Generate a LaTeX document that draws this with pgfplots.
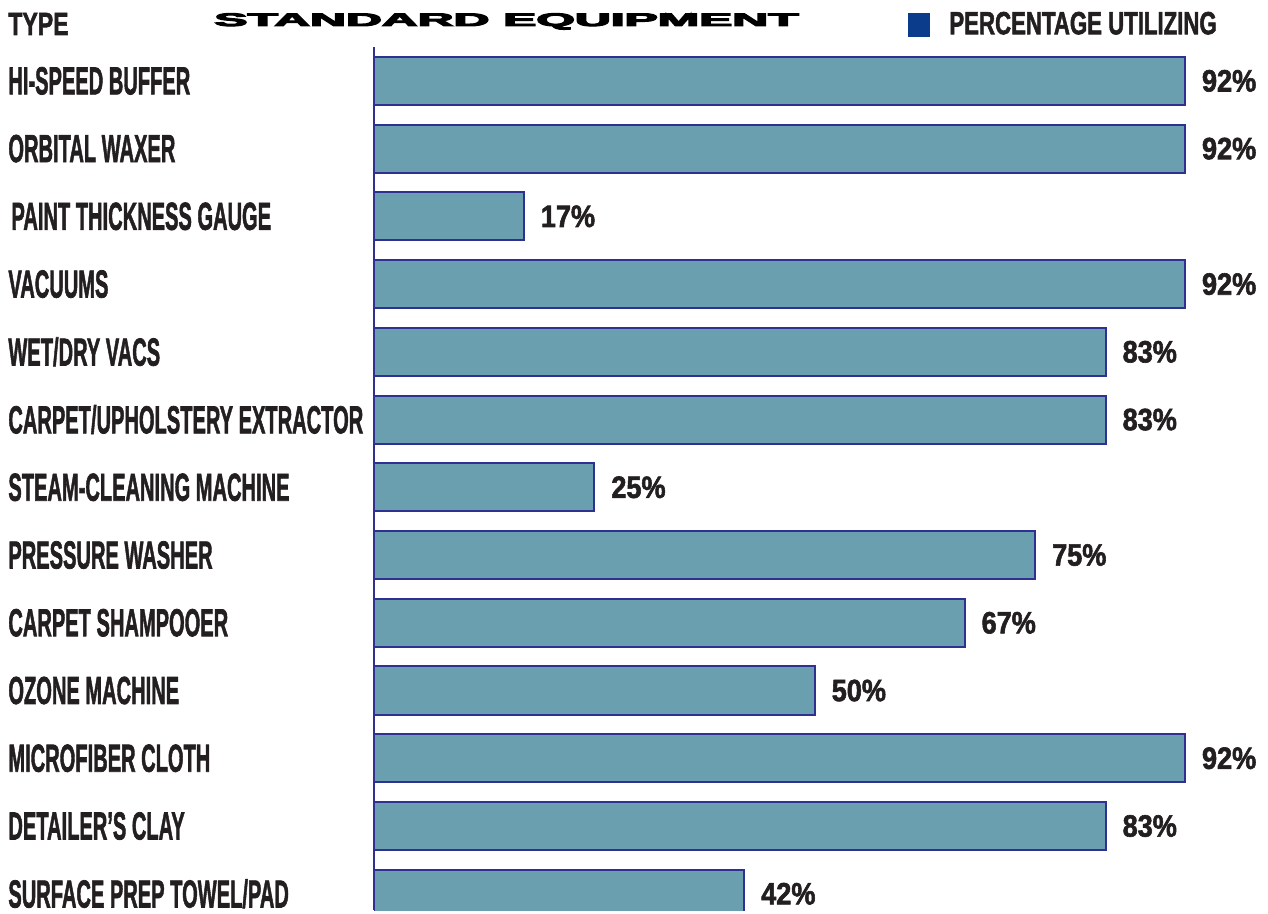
\documentclass[border=0pt]{standalone}
\usepackage{pgfplots}
\pgfplotsset{compat=1.18}
\usepackage{fontspec}
\usepackage{graphicx}
\setmainfont{Liberation Sans}
\newfontfamily\heavy{Liberation Sans}[UprightFont={* Bold}, FakeBold=2]
\newfontfamily\titlefont{Liberation Sans}[UprightFont={* Bold}, FakeBold=5]
\definecolor{barfill}{HTML}{6A9FB0}
\definecolor{bardraw}{HTML}{2E3192}
\definecolor{legblue}{HTML}{0B3C8C}
\definecolor{txt}{HTML}{231F20}
\newcommand{\lab}[1]{\scalebox{0.515}[1]{\heavy\fontsize{19.5}{21}\selectfont #1}}
\newcommand{\vlab}[1]{\scalebox{0.88}[1]{\heavy\fontsize{15.4}{17}\selectfont #1}}
\begin{document}
\begin{tikzpicture}
\useasboundingbox (0pt,0pt) rectangle (634pt,-457pt);
\begin{axis}[
  at={(187pt,-23.5pt)}, anchor=north west,
  scale only axis, width=440.75pt, height=431.5pt,
  xmin=0, xmax=100, ymin=-0.5, ymax=12.24, y dir=reverse,
  axis x line=none, axis y line=left,
  axis line style={-, draw=bardraw, line width=0.6pt},
  xtick=\empty, ytick={0,...,12}, major tick length=0pt,
  yticklabels={\lab{HI-SPEED BUFFER},\lab{ORBITAL WAXER},\lab{\hspace{3pt}PAINT THICKNESS GAUGE},\lab{VACUUMS},\lab{WET/DRY VACS},\lab{CARPET/UPHOLSTERY EXTRACTOR},\lab{STEAM-CLEANING MACHINE},\lab{PRESSURE WASHER},\lab{CARPET SHAMPOOER},\lab{OZONE MACHINE},\lab{MICROFIBER CLOTH},\lab{DETAILER’S CLAY},\lab{SURFACE PREP TOWEL/PAD}},
  yticklabel style={anchor=west, inner sep=0pt, xshift=-183pt, text=txt},
  xbar, bar width=0.71,
  point meta=x,
  nodes near coords={\vlab{\pgfmathprintnumber[assume math mode=true]{\pgfplotspointmeta}\%}},
  nodes near coords style={anchor=west, inner sep=0pt, xshift=8pt, text=txt},
  legend style={draw=none, fill=none, inner sep=0pt, at={(axis description cs:0.6058,1.026)}, anchor=west,
    nodes={inner sep=0pt}, /tikz/every odd column/.append style={column sep=9.5pt}},
  legend image code/.code={\fill[legblue] (0pt,-5.5pt) rectangle (10pt,5.5pt);},
]
\addplot[fill=barfill, draw=bardraw, line width=1pt] coordinates {
  (92,0) (92,1) (17,2) (92,3) (83,4) (83,5) (25,6) (75,7) (67,8) (50,9) (92,10) (83,11) (42,12)
};
\addlegendentry{\scalebox{0.694}[1]{\heavy\fontsize{16}{17}\selectfont\color{txt}PERCENTAGE UTILIZING}}
\end{axis}
\node[anchor=base west, inner sep=0pt, text=txt] at (4pt,-17.5pt) {\scalebox{0.72}[1]{\heavy\fontsize{16}{17}\selectfont TYPE}};
\node[anchor=base, inner sep=0pt] at (253.25pt,-13pt) {\scalebox{2.73}[1]{\titlefont\fontsize{9.1}{10}\selectfont STANDARD EQUIPMENT}};
\end{tikzpicture}
\end{document}
